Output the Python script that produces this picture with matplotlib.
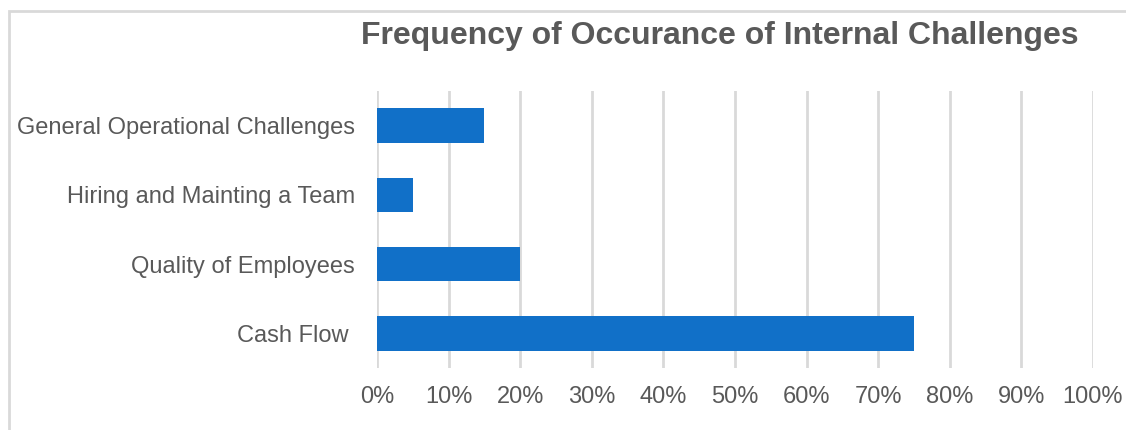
import matplotlib.pyplot as plt
from matplotlib.patches import Rectangle
from matplotlib.ticker import PercentFormatter

categories = ['Cash Flow ', 'Quality of Employees', 'Hiring and Mainting a Team', 'General Operational Challenges']
values = [0.75, 0.20, 0.05, 0.15]
xticks = [0, 0.1, 0.2, 0.3, 0.4, 0.5, 0.6, 0.7, 0.8, 0.9, 1.0]

plt.rcParams['font.family'] = ['Liberation Sans', 'DejaVu Sans']
gray = '#595959'

fig = plt.figure(figsize=(11.26, 4.3), dpi=100)
ax = fig.add_axes([377 / 1126, 1 - 368 / 430, 716 / 1126, 277 / 430])

ax.barh(range(len(categories)), values, height=0.5, color='#1170C8', zorder=3)
ax.set_ylim(-0.5, len(categories) - 0.5)
ax.set_xlim(0, 1.0)
ax.set_xticks(xticks)
ax.xaxis.set_major_formatter(PercentFormatter(1.0, decimals=0))
ax.set_yticks(range(len(categories)))
ax.set_yticklabels(categories)

ax.grid(axis='x', color='#D9D9D9', linewidth=2, zorder=0)
for s in ax.spines.values():
    s.set_visible(False)
ax.tick_params(axis='both', length=0, labelsize=17, colors=gray)
ax.tick_params(axis='y', pad=16)
ax.tick_params(axis='x', pad=13)

fig.text(720 / 1126, 1 - 36 / 430, 'Frequency of Occurance of Internal Challenges',
         ha='center', va='center', fontsize=23, fontweight='bold', color=gray)

# light outer frame of the chart area
fig.patches.append(Rectangle((9 / 1126, -0.1), 1.2, 1 - 11 / 430 + 0.1,
                             transform=fig.transFigure, fill=False,
                             edgecolor='#D9D9D9', linewidth=2))

fig.savefig('out.png', dpi=100)
